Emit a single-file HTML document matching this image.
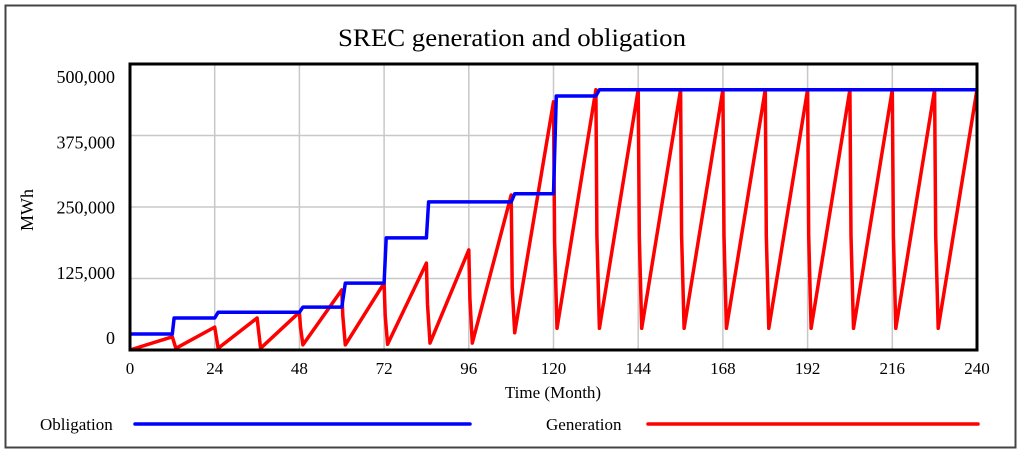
<!DOCTYPE html>
<html><head><meta charset="utf-8"><style>
body{margin:0;background:#fff;width:1024px;height:456px;overflow:hidden}
svg text{font-family:"Liberation Serif",serif;fill:#000}
</style></head><body>
<svg id="chart" width="1024" height="456" xmlns="http://www.w3.org/2000/svg">
<rect x="5.5" y="5.5" width="1010" height="442" fill="#fff" stroke="#444" stroke-width="2"/>
<text x="512" y="46" font-size="25" text-anchor="middle" textLength="348" lengthAdjust="spacingAndGlyphs">SREC generation and obligation</text>
<g id="grid"></g>
<g id="series"></g>
<rect x="130" y="64" width="847" height="286" fill="none" stroke="#000" stroke-width="3"/>
<g id="labels"></g>
<text x="0" y="0" font-size="18" text-anchor="middle" transform="translate(33,210) rotate(-90)">MWh</text>
<text x="553" y="398" font-size="17" text-anchor="middle">Time (Month)</text>
<g>
<text x="40" y="430" font-size="17">Obligation</text>
<line x1="135" y1="424" x2="470" y2="424" stroke="#0000ff" stroke-width="3.5" stroke-linecap="round"/>
<text x="546" y="430" font-size="17">Generation</text>
<line x1="648" y1="424" x2="978" y2="424" stroke="#ff0000" stroke-width="3.5" stroke-linecap="round"/>
</g>
</svg>
<script>
const xTicks=[0,24,48,72,96,120,144,168,192,216,240];
const yTicks=[0,125000,250000,375000,500000];
const yTickLabels=["0","125,000","250,000","375,000","500,000"];
const obligationMonths=[0,12,12.5,24,25,48,49,60,61,72,72.6,84,84.6,108,109,120,120.8,132,133,240];
const obligationValues=[28000,28000,56000,56000,66000,66000,75000,75000,117000,117000,196000,196000,259000,259000,273000,273000,444000,444000,455000,455000];
const genMonths=[0,12,13,24,25,36,37,48,48.3,49,60,60.3,61,72,72.3,73,84,84.3,85,96,96.3,97,108,108.3,109,120,120.3,121,132,132.3,133,144,144.3,145,156,156.3,157,168,168.3,169,180,180.3,181,192,192.3,193,204,204.3,205,216,216.3,217,228,228.3,229,240];
const genValues=[0,23000,3000,40000,3000,56000,3000,66000,40000,9000,105000,60000,9000,117000,60000,10000,152000,80000,12000,175000,90000,12000,271000,110000,30000,434000,190000,38000,455000,200000,38000,455000,200000,38000,455000,200000,38000,455000,200000,38000,455000,200000,38000,455000,200000,38000,455000,200000,38000,455000,200000,38000,455000,200000,38000,455000];
const X0=130,X1=977,Y0=350,Y1=64;
const xs=m=>X0+(m-0)/(240-0)*(X1-X0);
const ys=v=>Y0-(v/500000)*(Y0-Y1);
const NS="http://www.w3.org/2000/svg";
const grid=document.getElementById('grid'),lab=document.getElementById('labels'),ser=document.getElementById('series');
xTicks.forEach(t=>{
 const l=document.createElementNS(NS,'line');
 
 
 l.setAttribute('x1',xs(t));l.setAttribute('x2',xs(t));l.setAttribute('y1',Y1);l.setAttribute('y2',Y0);
 l.setAttribute('stroke','#c8c8c8');l.setAttribute('stroke-width','1.5');grid.appendChild(l);
 const tx=document.createElementNS(NS,'text');
 
 
 tx.setAttribute('x',xs(t));tx.setAttribute('y',374);tx.setAttribute('font-size','17');tx.setAttribute('text-anchor','middle');
 tx.textContent=t;lab.appendChild(tx);
});
yTicks.forEach((t,i)=>{
 const l=document.createElementNS(NS,'line');
 
 
 l.setAttribute('x1',X0);l.setAttribute('x2',X1);l.setAttribute('y1',ys(t));l.setAttribute('y2',ys(t));
 l.setAttribute('stroke','#c8c8c8');l.setAttribute('stroke-width','1.5');grid.appendChild(l);
 const tx=document.createElementNS(NS,'text');
 
 
 const ly=344-(t/500000)*(344-83);
 tx.setAttribute('x',115);tx.setAttribute('y',ly);tx.setAttribute('font-size','18');tx.setAttribute('text-anchor','end');
 tx.textContent=yTickLabels[i];lab.appendChild(tx);
});
function poly(ms,vs,color,name){
 const p=document.createElementNS(NS,'polyline');
 
 
 p.setAttribute('points',ms.map((m,i)=>xs(m).toFixed(1)+','+ys(vs[i]).toFixed(1)).join(' '));
 p.setAttribute('fill','none');p.setAttribute('stroke',color);p.setAttribute('stroke-width','3.5');p.setAttribute('stroke-linejoin','round');
 ser.appendChild(p);
}
poly(genMonths,genValues,'#ff0000','generation-line');
poly(obligationMonths,obligationValues,'#0000ff','obligation-line');
</script>
</body></html>
